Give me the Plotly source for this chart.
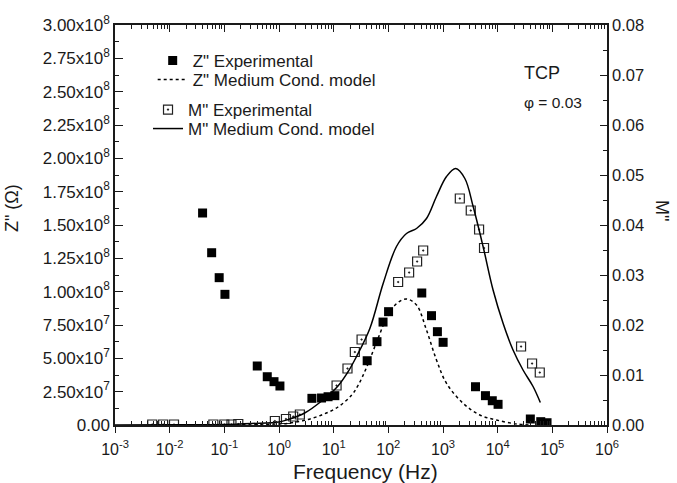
import plotly.graph_objects as go

# ---------------- data ----------------
z_exp_freq = [0.040, 0.0586, 0.0805, 0.1026, 0.40, 0.61, 0.81, 1.04, 4.0, 6.0, 7.9, 10.5,
              41, 62, 80, 101, 409, 616, 790, 1005, 3930, 5980, 7970, 10170, 39600, 61400, 80000]
z_exp_val = [1.59e8, 1.292e8, 1.105e8, 0.98e8, 0.4425e8, 0.362e8, 0.325e8, 0.2925e8, 0.20e8,
             0.2025e8, 0.212e8, 0.22e8, 0.482e8, 0.625e8, 0.772e8, 0.85e8, 0.99e8, 0.82e8,
             0.70e8, 0.62e8, 0.287e8, 0.22e8, 0.182e8, 0.155e8, 0.045e8, 0.025e8, 0.017e8]

z_mod_freq = [0.1, 0.316, 1.0, 1.48, 2.95, 6.03, 12.0, 21.4, 28.2, 39.8, 60.8, 92.7, 141, 215,
              328, 499, 760, 1160, 2330, 4710, 9510, 22100, 39800]
z_mod_val = [0.0005e8, 0.002e8, 0.008e8, 0.013e8, 0.035e8, 0.075e8, 0.135e8, 0.225e8, 0.30e8,
             0.43e8, 0.62e8, 0.80e8, 0.91e8, 0.945e8, 0.90e8, 0.712e8, 0.4875e8, 0.3125e8,
             0.163e8, 0.075e8, 0.0375e8, 0.0075e8, 0.0]

m_exp_freq = [0.0048, 0.0076, 0.012, 0.063, 0.1, 0.135, 0.18, 0.84, 1.34, 1.82, 2.41, 11.3, 17.9,
              24.4, 32.4, 151, 240, 336, 434, 2030, 3220, 4570, 5630, 26800, 42600, 58900]
m_exp_val = [0.0001, 0.0001, 0.0001, 0.0001, 0.0001, 0.0001, 0.0002, 0.0008, 0.0012, 0.0017,
             0.0021, 0.0079, 0.0113, 0.0146, 0.0171, 0.0286, 0.0305, 0.0327, 0.0349, 0.0453,
             0.0429, 0.0391, 0.0354, 0.0157, 0.0123, 0.0105]

m_mod_freq = [0.001, 0.01, 0.1, 0.316, 1.0, 1.48, 2.95, 6.03, 12.0, 18.0, 26.2, 45.9, 80.4, 141,
              215, 328, 499, 760, 1160, 1710, 2510, 3560, 5410, 8240, 12600, 19100, 29100,
              44400, 60300]
m_mod_val = [0.00002, 0.00003, 0.0001, 0.0003, 0.0006, 0.0011, 0.0024, 0.0048, 0.0078, 0.0105,
             0.0137, 0.0193, 0.0283, 0.0357, 0.0383, 0.0393, 0.0413, 0.0457, 0.0497, 0.0513,
             0.0493, 0.0437, 0.0357, 0.027, 0.0203, 0.015, 0.011, 0.0077, 0.0045]

x_tick_vals = [1e-3, 1e-2, 1e-1, 1e0, 1e1, 1e2, 1e3, 1e4, 1e5, 1e6]
x_tick_text = ["10<sup>-3</sup>", "10<sup>-2</sup>", "10<sup>-1</sup>", "10<sup>0</sup>",
               "10<sup>1</sup>", "10<sup>2</sup>", "10<sup>3</sup>", "10<sup>4</sup>",
               "10<sup>5</sup>", "10<sup>6</sup>"]
y1_tick_vals = [0, 2.5e7, 5e7, 7.5e7, 1e8, 1.25e8, 1.5e8, 1.75e8, 2e8, 2.25e8, 2.5e8, 2.75e8, 3e8]
y1_tick_text = ["0.00", "2.50x10<sup>7</sup>", "5.00x10<sup>7</sup>", "7.50x10<sup>7</sup>",
                "1.00x10<sup>8</sup>", "1.25x10<sup>8</sup>", "1.50x10<sup>8</sup>",
                "1.75x10<sup>8</sup>", "2.00x10<sup>8</sup>", "2.25x10<sup>8</sup>",
                "2.50x10<sup>8</sup>", "2.75x10<sup>8</sup>", "3.00x10<sup>8</sup>"]
y2_tick_vals = [0, 0.01, 0.02, 0.03, 0.04, 0.05, 0.06, 0.07, 0.08]
y2_tick_text = ["0.00", "0.01", "0.02", "0.03", "0.04", "0.05", "0.06", "0.07", "0.08"]

x_minor_vals = [m * 10.0 ** e for e in range(-3, 6) for m in range(2, 10)]

FONT = "Liberation Sans, Arial, sans-serif"
INK = "#1a1a1a"

# ---------------- figure ----------------
fig = go.Figure()

fig.add_trace(go.Scatter(
    x=z_exp_freq, y=z_exp_val, mode="markers", name='Z" Experimental',
    marker=dict(symbol="square", size=9, color="#000000"),
    xaxis="x", yaxis="y", legend="legend", showlegend=True))
fig.add_trace(go.Scatter(
    x=z_mod_freq, y=z_mod_val, mode="lines", name='Z" Medium Cond. model',
    line=dict(color="#000000", width=1.5, dash="dot", shape="spline", smoothing=1.0),
    xaxis="x2", yaxis="y", legend="legend2", showlegend=True))
fig.add_trace(go.Scatter(
    x=m_exp_freq, y=m_exp_val, mode="markers", name='M" Experimental',
    marker=dict(symbol="square-open-dot", size=9, color="#222222", line=dict(width=1.2)),
    xaxis="x", yaxis="y2", legend="legend3", showlegend=True))
fig.add_trace(go.Scatter(
    x=m_mod_freq, y=m_mod_val, mode="lines", name='M" Medium Cond. model',
    line=dict(color="#000000", width=1.5, shape="spline", smoothing=1.0),
    xaxis="x", yaxis="y2", legend="legend4", showlegend=True))

axis_common = dict(showline=True, linecolor=INK, linewidth=1.5, showgrid=False,
                   zeroline=False, tickcolor=INK, tickwidth=1.3)

fig.update_layout(
    width=677, height=483,
    margin=dict(l=115, r=70, t=25, b=58),
    paper_bgcolor="white", plot_bgcolor="white",
    font=dict(family=FONT, color=INK),
    showlegend=True,
    xaxis=dict(type="log", range=[-3, 6], tickmode="array", tickvals=x_tick_vals,
               ticktext=x_tick_text, ticks="outside", ticklen=6, ticklabelstandoff=3,
               tickfont=dict(family=FONT, size=16, color=INK),
               minor=dict(tickmode="array", tickvals=x_minor_vals, ticks="inside",
                          ticklen=4, tickcolor=INK, tickwidth=1.1),
               **axis_common),
    xaxis2=dict(type="log", range=[-3, 6], overlaying="x", side="top", matches="x",
                tickmode="array", tickvals=x_tick_vals, showticklabels=False,
                ticks="inside", ticklen=7,
                minor=dict(tickmode="array", tickvals=x_minor_vals, ticks="inside",
                           ticklen=4, tickcolor=INK, tickwidth=1.1),
                **axis_common),
    yaxis=dict(range=[0, 3e8], tickmode="array", tickvals=y1_tick_vals,
               ticktext=y1_tick_text, ticks="inside", ticklen=8,
               tickfont=dict(family=FONT, size=17, color=INK),
               minor=dict(dtick=1.25e7, ticks="inside", ticklen=4, tickcolor=INK,
                          tickwidth=1.1),
               **axis_common),
    yaxis2=dict(range=[0, 0.08], overlaying="y", side="right", tickmode="array",
                tickvals=y2_tick_vals, ticktext=y2_tick_text, ticks="inside", ticklen=7,
                tickfont=dict(family=FONT, size=16.5, color=INK),
                minor=dict(dtick=0.005, ticks="inside", ticklen=4, tickcolor=INK,
                           tickwidth=1.1),
                **axis_common),
)

leg_common = dict(bgcolor="rgba(0,0,0,0)", borderwidth=0, xanchor="left", yanchor="top",
                  font=dict(family=FONT, size=17, color=INK), itemsizing="trace",
                  visible=True)
fig.update_layout(
    legend=dict(x=0.0766, y=0.955, **leg_common),
    legend2=dict(x=0.0766, y=0.9075, **leg_common),
    legend3=dict(x=0.0671, y=0.8325, **leg_common),
    legend4=dict(x=0.0671, y=0.785, **leg_common),
)

ann_font = dict(family=FONT, color=INK)
fig.add_annotation(text='Z" (Ω)', xref="paper", yref="paper", x=-0.2093, y=0.5425,
                   xanchor="center", yanchor="middle",
                   textangle=-90, showarrow=False, font=dict(size=18, **ann_font))
fig.add_annotation(text='M"', xref="paper", yref="paper", x=1.1118, y=0.5375,
                   xanchor="center", yanchor="middle",
                   textangle=90, showarrow=False, font=dict(size=18, **ann_font))
fig.add_annotation(text="Frequency (Hz)", xref="paper", yref="paper", x=0.510, y=-0.115,
                   xanchor="center", yanchor="middle",
                   showarrow=False, font=dict(size=21, **ann_font))
fig.add_annotation(text="TCP", xref="paper", yref="paper", x=0.828, y=0.88,
                   xanchor="left", yanchor="middle", showarrow=False,
                   font=dict(size=18, **ann_font))
fig.add_annotation(text="φ = 0.03", xref="paper", yref="paper", x=0.828, y=0.8075,
                   xanchor="left", yanchor="middle", showarrow=False,
                   font=dict(size=15.5, **ann_font))

fig.write_html("out.html")
